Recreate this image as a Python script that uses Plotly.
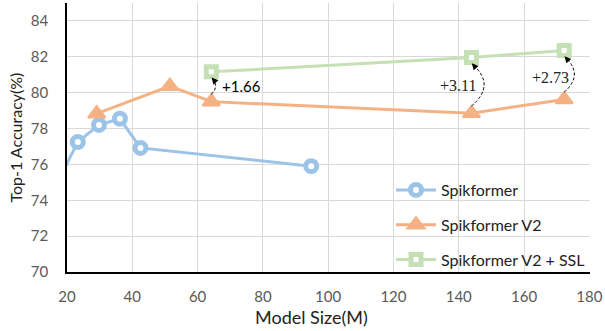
import plotly.graph_objects as go

# data
spk_x = [16.8, 23.3, 29.8, 36.2, 42.5, 94.8]
spk_y = [74.9, 77.25, 78.2, 78.55, 76.92, 75.9]
v2_x = [29.1, 51.5, 64.2, 143.9, 172.3]
v2_y = [78.83, 80.36, 79.5, 78.85, 79.62]
ssl_x = [64.2, 143.9, 172.3]
ssl_y = [81.16, 81.96, 82.35]
gain_labels = ["+1.66", "+3.11", "+2.73"]

BLUE = "#9DC3E6"
ORANGE = "#F4B183"
GREEN = "#C5E0B4"
FONT = "Lato"

fig = go.Figure()
fig.add_trace(go.Scatter(x=spk_x, y=spk_y, mode="lines+markers", name="Spikformer",
                         legendgroup="a",
                         line=dict(color=BLUE, width=3),
                         marker=dict(symbol="circle", size=11, color="white",
                                     line=dict(color=BLUE, width=5))))
fig.add_trace(go.Scatter(x=v2_x, y=v2_y, mode="lines+markers", name="Spikformer V2",
                         legendgroup="b",
                         line=dict(color=ORANGE, width=3),
                         marker=dict(symbol="triangle-up", size=15, color=ORANGE,
                                     line=dict(color=ORANGE, width=2))))
fig.add_trace(go.Scatter(x=ssl_x, y=ssl_y, mode="lines+markers", name="Spikformer V2 + SSL",
                         legendgroup="c",
                         line=dict(color=GREEN, width=3),
                         marker=dict(symbol="square", size=10, color="white",
                                     line=dict(color=GREEN, width=5))))

# curved dashed arrows from V2 to V2+SSL
bulge = [2.4, 7.5, 6.0]
v2_lookup = dict(zip(v2_x, v2_y))
shapes = []
annotations = []
for i, (sx, sy) in enumerate(zip(ssl_x, ssl_y)):
    oy = v2_lookup[sx]
    y0 = oy + 0.4
    y1 = sy - 0.35
    cx = sx + bulge[i]
    cy = (y0 + y1) / 2
    shapes.append(dict(type="path", xref="x", yref="y",
                       path=f"M {sx},{y0} Q {cx},{cy} {sx + 0.4},{y1 - 0.05}",
                       line=dict(color="black", width=1, dash="3px,2px")))
    annotations.append(dict(x=sx + 0.1, y=y1 + 0.03, xref="x", yref="y",
                            ax=sx + 1.2, ay=y1 - 0.2, axref="x", ayref="y",
                            showarrow=True, arrowhead=2, arrowsize=1.3, arrowwidth=1,
                            arrowcolor="black", text=" ", font=dict(size=1)))

# gain labels
annotations.append(dict(x=ssl_x[0] + 2.6, y=(ssl_y[0] + v2_y[2]) / 2 + 0.05, xref="x", yref="y",
                        text=gain_labels[0], showarrow=False, xanchor="left",
                        font=dict(family=FONT, size=15, color="black")))
annotations.append(dict(x=ssl_x[1] + 2.1, y=80.4, xref="x", yref="y",
                        text=gain_labels[1], showarrow=False, xanchor="right",
                        font=dict(family="Liberation Serif", size=16, color="#222")))
annotations.append(dict(x=ssl_x[2] + 2.0, y=80.85, xref="x", yref="y",
                        text=gain_labels[2], showarrow=False, xanchor="right",
                        font=dict(family="Liberation Serif", size=16, color="#222")))

# axis titles
annotations.append(dict(x=(311 - 67) / 523, y=-(317 - 272) / 269, xref="paper", yref="paper",
                        text="Model Size(M)", showarrow=False, yanchor="middle",
                        font=dict(family=FONT, size=18, color="#222")))
annotations.append(dict(x=(15 - 67) / 523, y=0.5, xref="paper", yref="paper",
                        text="Top-1 Accuracy(%)", showarrow=False, textangle=-90,
                        xanchor="center", yanchor="middle",
                        font=dict(family=FONT, size=16, color="#222")))

fig.update_layout(
    width=605, height=331,
    margin=dict(l=67, r=15, t=3, b=59, autoexpand=False),
    paper_bgcolor="white", plot_bgcolor="white",
    font=dict(family=FONT, size=15, color="#595959"),
    showlegend=True,
    annotations=annotations, shapes=shapes,
    legend=dict(x=(391 - 67) / 523, y=(272 - 173) / 269, xanchor="left", yanchor="top",
                bgcolor="rgba(0,0,0,0)", font=dict(family=FONT, size=16, color="#222"),
                tracegroupgap=11, itemwidth=40),
    xaxis=dict(range=[20, 180.2], dtick=20, tick0=20, showgrid=True, gridcolor="#D9D9D9",
               gridwidth=1.3, showline=True, linecolor="black", linewidth=1.5,
               ticks="", ticklabelstandoff=10, zeroline=False, automargin=False),
    yaxis=dict(range=[70, 85], dtick=2, tick0=70, showgrid=True, gridcolor="#D9D9D9",
               gridwidth=1.3, showline=True, linecolor="black", linewidth=1.5,
               ticks="", ticklabelstandoff=14, zeroline=False, automargin=False),
)

fig.write_html("out.html", config={"displayModeBar": False},
               post_script="document.body.style.margin='0';")
